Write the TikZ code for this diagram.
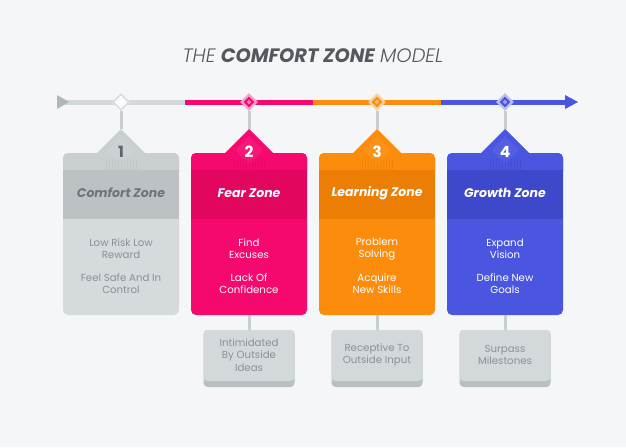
\documentclass[tikz,border=0pt]{standalone}
\usepackage{fontspec}
\usetikzlibrary{shapes.geometric}
\setmainfont{Poppins}
\newfontfamily\popL{Poppins Light}[ItalicFont={Poppins Light Italic}]
\definecolor{bg}{HTML}{F5F6F8}
\definecolor{tlgray}{HTML}{D3D9DA}
\definecolor{tltri}{HTML}{AEB9B5}
\definecolor{conn}{HTML}{C8CDD0}
\definecolor{titlec}{HTML}{55595E}
\definecolor{gBody}{HTML}{D5DADC}
\definecolor{gBand}{HTML}{BCC1C4}
\definecolor{gTop}{HTML}{C9CED1}
\definecolor{gHead}{HTML}{6E747A}
\definecolor{gNum}{HTML}{5E646B}
\definecolor{gText}{HTML}{8A9095}
\definecolor{pBody}{HTML}{F5096F}
\definecolor{pBand}{HTML}{E2065F}
\definecolor{oBody}{HTML}{FB8C0C}
\definecolor{oBand}{HTML}{EC7E06}
\definecolor{bBody}{HTML}{4A55E0}
\definecolor{bBand}{HTML}{3E48CB}
\definecolor{boxc}{HTML}{D3D9DB}
\definecolor{boxs}{HTML}{B8C0C2}
\tikzset{
  card/.style={rounded corners=5pt, minimum width=116pt, minimum height=162pt, inner sep=0pt, draw=none},
  infobox/.style={rounded corners=4pt, minimum width=91pt, minimum height=57pt, inner sep=0pt, fill=boxs, draw=none},
  bar/.style={line width=5pt},
  vconn/.style={line width=3pt, draw=conn},
  headtxt/.style={font=\bfseries\itshape\fontsize{12.5}{14}\selectfont, inner sep=0pt},
  numtxt/.style={font=\bfseries\fontsize{15.5}{16}\selectfont, inner sep=0pt},
  bodytxt/.style={font=\fontsize{10.2}{12.2}\selectfont, align=center, inner sep=0pt},
  boxtxt/.style={font=\fontsize{10.2}{12.2}\selectfont, align=center, inner sep=0pt, text=gText},
  dmd/.style={diamond, inner sep=0pt, minimum size=#1, draw=none},
}
\begin{document}
\begin{tikzpicture}[x=1pt,y=-1pt]
\fill[bg] (0,0) rectangle (626,447);
\useasboundingbox (0,0) rectangle (626,447);

% title
\node[text=titlec, inner sep=0pt] (title) at (313,56) {\fontsize{19.4}{22}\selectfont{\popL\itshape THE} {\bfseries\itshape COMFORT ZONE} {\popL\itshape MODEL}};

% timeline
\coordinate (s0) at (60,102);
\coordinate (s1) at (185,102);
\coordinate (s2) at (313,102);
\coordinate (s3) at (441,102);
\coordinate (s4) at (566,102);
\draw[bar, tlgray] (s0) -- (s1);
\draw[bar, pBody] (s1) -- (s2);
\draw[bar, oBody] (s2) -- (s3);
\draw[bar, bBody] (s3) -- (s4);
\fill[tltri] (57,95) -- (69,102) -- (57,109) -- cycle;
\fill[bBody] (565,95) -- (578,102) -- (565,109) -- cycle;

% ---------- cards ----------
\foreach \cx/\body/\band/\topc/\num/\numc/\headc/\txtc/\title/\ta/\tb [count=\i] in {
  121/gBody/gBand/gTop/1/gNum/gHead/gText/Comfort Zone/Low Risk Low\\Reward/Feel Safe And In\\Control,
  249/pBody/pBand/pBody/2/white/white/white/Fear Zone/Find\\Excuses/Lack Of\\Confidence,
  377/oBody/oBand/oBody/3/white/white/white/Learning Zone/Problem\\Solving/Acquire\\New Skills,
  505/bBody/bBand/bBody/4/white/white/white/Growth Zone/Expand\\Vision/Define New\\Goals}{
  \coordinate (peak\i) at (\cx,129);
  \node[dmd=18pt, fill=\body!35!bg] (d\i) at (\cx,102) {};
  \draw[vconn] (d\i.south) -- (peak\i);
  \node[card, fill=\body] (c\i) at (\cx,234) {};
  \fill[\topc, rounded corners=5pt] (\cx-58,176) -- (\cx-58,153) -- (\cx+58,153) -- (\cx+58,176) -- cycle;
  \fill[\topc] (\cx-25,154) -- (peak\i) -- (\cx+25,154) -- cycle;
  \fill[\topc!94!white] (\cx,136) -- (\cx+14,150) -- (\cx,164) -- (\cx-14,150) -- cycle;
  \foreach \k in {-15,-12,...,15} {\draw[\band!60!\topc, line width=0.6pt] (\cx+\k,159) -- (\cx+\k,170);}
  \fill[\band] (\cx-58,170) rectangle (\cx+58,219);
  \node[numtxt, text=\numc] (n\i) at (\cx,152) {\num};
  \node[headtxt, text=\headc] (h\i) at (\cx,193) {\title};
  \node[bodytxt, text=\txtc] (ta\i) at (\cx,249) {\ta};
  \node[bodytxt, text=\txtc] (tb\i) at (\cx,284) {\tb};
  \node[dmd=11pt, fill=\body] (di\i) at (d\i) {};
  \node[dmd=5pt, fill=\body!55!white] (dc\i) at (d\i) {};
}
% diamond 1 lighter
\node[dmd=16pt, fill=white!88!gBody, draw=gBody, line width=1.2pt] (d1b) at (d1) {};
\node[dmd=5pt, fill=white] (d1c) at (d1) {};

% ---------- bottom boxes ----------
\foreach \cx/\t/\i in {249/Intimidated\\By Outside\\Ideas/2, 377/Receptive To\\Outside Input/3, 505/Surpass\\Milestones/4}{
  \node[infobox] (b\i) at (\cx,358.5) {};
  \draw[vconn] (c\i.south) -- (b\i.north);
  \fill[boxc, rounded corners=4pt] (\cx-45.5,330) rectangle (\cx+45.5,381);
  \node[boxtxt] (bt\i) at (\cx,355) {\t};
}
\end{tikzpicture}
\end{document}
